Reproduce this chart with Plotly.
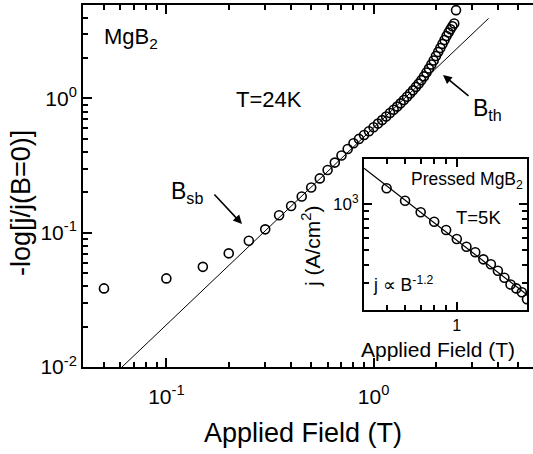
import plotly.graph_objects as go
import math

# ---------------- data ----------------
field_T = [0.05, 0.10, 0.15, 0.20, 0.25, 0.30, 0.35, 0.40, 0.45, 0.50,
           0.55, 0.60, 0.65, 0.70, 0.75, 0.80, 0.85, 0.90, 0.95, 1.00,
           1.05, 1.10, 1.15, 1.20, 1.25, 1.30, 1.35, 1.40, 1.45, 1.50,
           1.55, 1.60, 1.65, 1.70, 1.75, 1.80, 1.85, 1.90, 1.95, 2.00,
           2.05, 2.10, 2.15, 2.20, 2.25, 2.30, 2.35, 2.40, 2.45, 2.50]
neglog_j = [0.0385, 0.0457, 0.0557, 0.0702, 0.0872, 0.106, 0.135, 0.158, 0.186, 0.217,
            0.254, 0.293, 0.333, 0.376, 0.421, 0.464, 0.500, 0.535, 0.570, 0.610,
            0.650, 0.690, 0.735, 0.780, 0.825, 0.870, 0.920, 0.975, 1.03, 1.09,
            1.15, 1.22, 1.29, 1.37, 1.46, 1.56, 1.67, 1.79, 1.92, 2.07,
            2.22, 2.38, 2.55, 2.73, 2.92, 3.10, 3.28, 3.45, 3.62, 4.55]

fit_B = [0.0611, 3.59]
fit_y = [0.01, 3.95]

inset_field_T = [0.5, 0.6, 0.7, 0.8, 0.9, 1.0, 1.1, 1.2, 1.3, 1.4, 1.5, 1.6, 1.7, 1.8, 1.9, 2.0]
inset_j = [1279, 1059, 887, 769, 678, 591, 525, 482, 433, 402, 364, 327, 295, 278, 262, 236]
inset_fit_B = [0.4, 2.0]
inset_fit_j = [1735, 252]

main_x_tickvals = [0.1, 1]
main_x_ticktext = ["10<sup>-1</sup>", "10<sup>0</sup>"]
main_y_tickvals = [0.01, 0.1, 1]
main_y_ticktext = ["10<sup>-2</sup>", "10<sup>-1</sup>", "10<sup>0</sup>"]
inset_x_tickvals = [1]
inset_x_ticktext = ["1"]
inset_y_tickvals = [1000]
inset_y_ticktext = ["10<sup>3</sup>"]

# ---------------- layout helpers ----------------
W, H = 533, 454
ML, MR, MT, MB = 83, 0, 5, 87
PW, PH = W - ML - MR, H - MT - MB
FONT = "Liberation Sans, Arial, Helvetica, sans-serif"


def P(xp, yp):
    return (xp - ML) / PW, (H - MB - yp) / PH


def minors(decades):
    return [m * 10 ** d for d in decades for m in range(2, 10)]


main_x_minor = [v for v in minors([-2, -1, 0]) if 0.045 < v < 5.9]
main_y_minor = [v for v in minors([-2, -1, 0]) if 0.01 < v < 4.99]
inset_x_minor = [v for v in minors([-1, 0]) if 0.41 < v < 2.01]
inset_y_minor = [v for v in minors([2, 3]) if 201 < v < 2001]

fig = go.Figure()

mk = dict(symbol="circle-open", size=9, color="black", line=dict(width=1.6, color="black"))

fig.add_trace(go.Scatter(x=fit_B, y=fit_y, mode="lines",
                         line=dict(color="black", width=1), xaxis="x", yaxis="y"))
fig.add_trace(go.Scatter(x=field_T, y=neglog_j, mode="markers", marker=mk,
                         xaxis="x", yaxis="y"))
fig.add_trace(go.Scatter(x=inset_fit_B, y=inset_fit_j, mode="lines",
                         line=dict(color="black", width=1.2), xaxis="x2", yaxis="y2"))
fig.add_trace(go.Scatter(x=inset_field_T, y=inset_j, mode="markers", marker=mk,
                         xaxis="x2", yaxis="y2"))

axcommon = dict(type="log", showgrid=False, zeroline=False, showline=True,
                linecolor="black", linewidth=2, ticks="inside", tickcolor="black",
                tickwidth=1.5, tickmode="array")

ix0, iy0 = P(364, 310)
ix1, iy1 = P(527, 159)

fig.update_layout(
    width=W, height=H, margin=dict(l=ML, r=MR, t=MT, b=MB),
    paper_bgcolor="white", plot_bgcolor="white", showlegend=False,
    font=dict(family=FONT, color="black"),
    xaxis=dict(axcommon, domain=[0, 1], range=[math.log10(0.0396), math.log10(5.88)],
               tickvals=main_x_tickvals, ticktext=main_x_ticktext, ticklen=9,
               mirror="ticks", tickfont=dict(size=21), ticklabelstandoff=10,
               minor=dict(tickvals=main_x_minor, ticks="inside", ticklen=5,
                          tickwidth=1.5, tickcolor="black")),
    yaxis=dict(axcommon, domain=[0, 1], range=[-2, math.log10(4.97)],
               tickvals=main_y_tickvals, ticktext=main_y_ticktext, ticklen=9,
               mirror=False, tickfont=dict(size=21), ticklabelstandoff=0,
               minor=dict(tickvals=main_y_minor, ticks="inside", ticklen=5,
                          tickwidth=1.5, tickcolor="black")),
    xaxis2=dict(axcommon, domain=[ix0, ix1], anchor="y2",
                range=[math.log10(0.4), math.log10(2.0)],
                tickvals=inset_x_tickvals, ticktext=inset_x_ticktext, ticklen=8,
                mirror="ticks", tickfont=dict(size=16), ticklabelstandoff=0,
                minor=dict(tickvals=inset_x_minor, ticks="inside", ticklen=5,
                           tickwidth=1.5, tickcolor="black")),
    yaxis2=dict(axcommon, domain=[iy0, iy1], anchor="x2",
                range=[math.log10(200), math.log10(2000)],
                tickvals=inset_y_tickvals, ticktext=inset_y_ticktext, ticklen=8,
                mirror="ticks", tickfont=dict(size=17), ticklabelstandoff=0,
                minor=dict(tickvals=inset_y_minor, ticks="inside", ticklen=5,
                           tickwidth=1.5, tickcolor="black")),
)

ann = []


def text(xp, yp, s, size, xanchor="left", yanchor="middle", angle=0):
    x, y = P(xp, yp)
    ann.append(dict(x=x, y=y, xref="paper", yref="paper", text=s, showarrow=False,
                    xanchor=xanchor, yanchor=yanchor, textangle=angle,
                    font=dict(size=size, family=FONT, color="black")))


def arrow(hx, hy, tx, ty):
    x, y = P(hx, hy)
    ann.append(dict(x=x, y=y, xref="paper", yref="paper", text="", showarrow=True,
                    ax=tx - hx, ay=ty - hy, arrowhead=2, arrowsize=1.1,
                    arrowwidth=1.6, arrowcolor="black", standoff=0))


text(302.5, 433, "Applied Field (T)", 27, xanchor="center")
text(21, 203, "-log[j/j(B=0)]", 27, xanchor="center", angle=-90)
text(102, 38, "MgB<sub>2</sub>", 22)
text(234, 99, "T=24K", 22)
text(471, 109, "B<sub>th</sub>", 23)
text(169, 192, "B<sub>sb</sub>", 23)
arrow(443, 75, 470, 97)
arrow(242, 224, 213, 193)
text(409, 180, "Pressed MgB<sub>2</sub>", 17.5)
text(454, 217, "T=5K", 18.5)
text(371, 284, "j \u221d B<sup>-1.2</sup>", 17.5)
text(437.5, 349, "Applied Field (T)", 21, xanchor="center")
text(311, 246, "j (A/cm<sup>2</sup>)", 21, xanchor="center", angle=-90)

fig.update_layout(annotations=ann)
fig.write_html("out.html")
